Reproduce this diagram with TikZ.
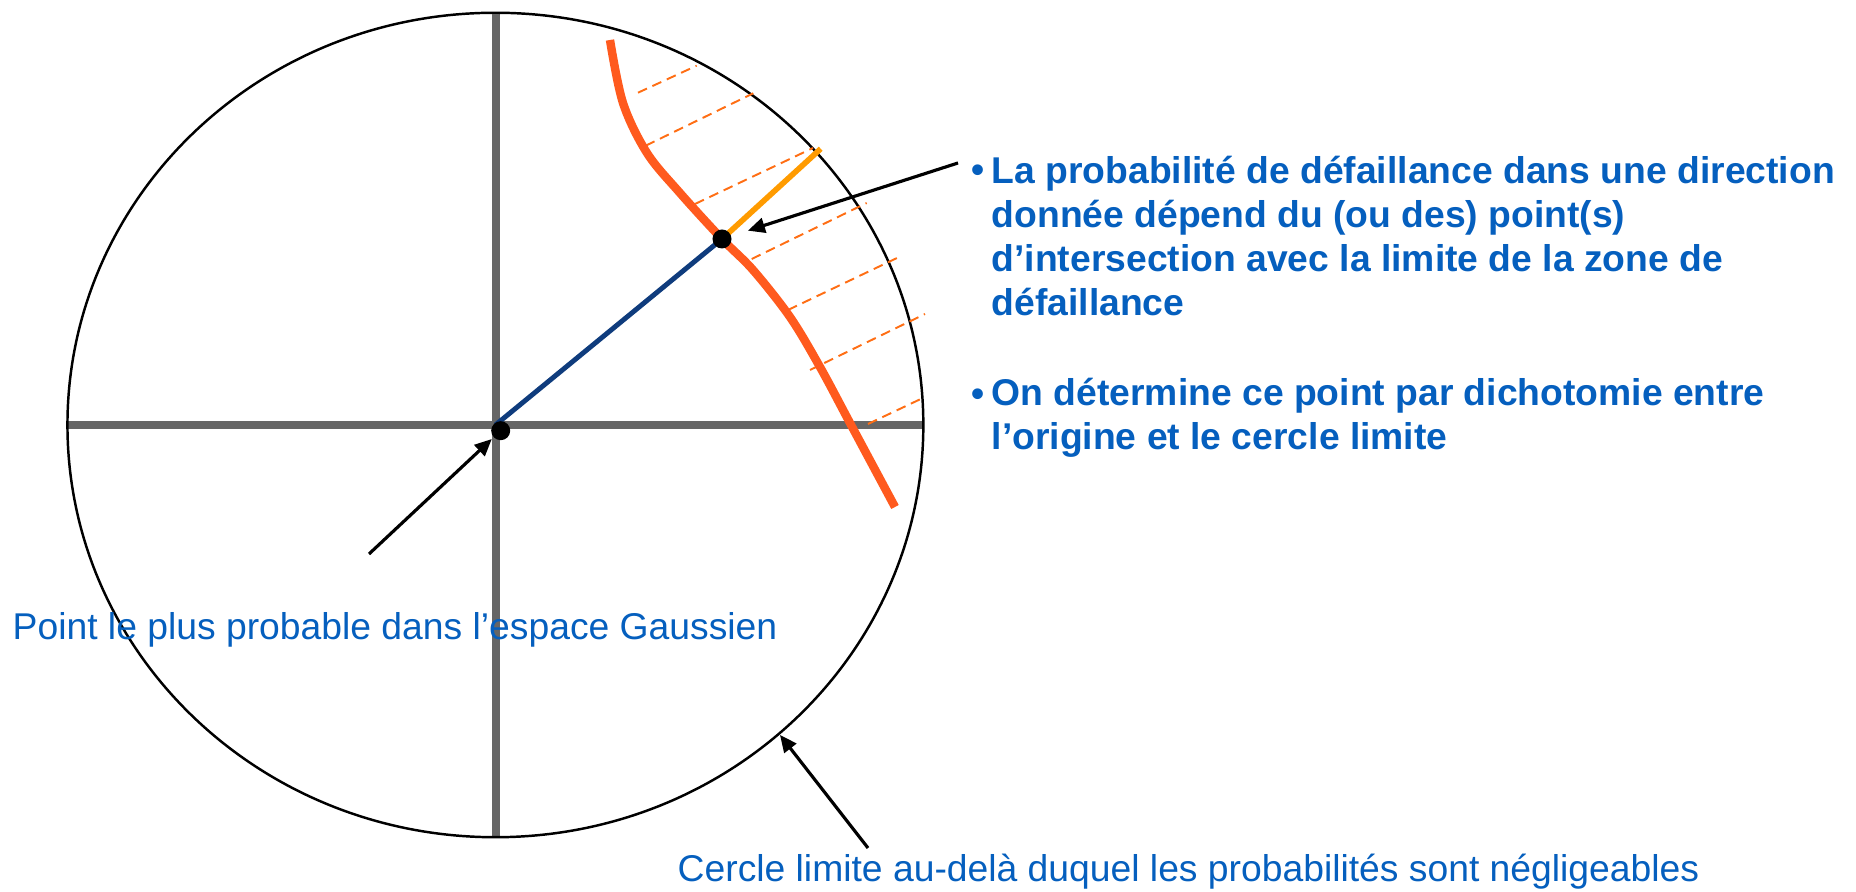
\documentclass[tikz,border=0pt]{standalone}
\usepackage{fontspec}
\setmainfont{Liberation Sans}
\usepackage{xcolor}
\usepackage{tikz}
\usetikzlibrary{arrows.meta,calc}
\definecolor{gaussblue}{RGB}{5,95,190}
\definecolor{axisgray}{RGB}{102,102,102}
\definecolor{failred}{RGB}{255,90,30}
\definecolor{hatchorange}{RGB}{255,110,20}
\definecolor{raynavy}{RGB}{15,60,125}
\definecolor{rayorange}{RGB}{255,155,0}
\tikzset{
  limitcircle/.style={draw=black, line width=0.7pt},
  axisline/.style={draw=axisgray, line width=2pt},
  failcurve/.style={draw=failred, line width=2.4pt, line cap=butt},
  hatchline/.style={draw=hatchorange, line width=0.55pt, dash pattern=on 2.8pt off 1.7pt},
  rayin/.style={draw=raynavy, line width=1.4pt},
  rayout/.style={draw=rayorange, line width=1.6pt},
  ptdot/.style={circle, fill=black, inner sep=0pt, minimum size=1.9mm},
  pointer/.style={-{Triangle[length=1.7mm, width=1.5mm]}, line width=0.9pt},
  lbl/.style={font=\fontsize{10.6}{12.6}\selectfont, text=gaussblue, inner sep=0pt},
  bul/.style={font=\bfseries\fontsize{10.6}{12.56}\selectfont, text=gaussblue, inner sep=0pt, align=left}
}
\begin{document}
\begin{tikzpicture}[x=0.01cm, y=-0.01cm]
    \useasboundingbox (0,0) rectangle (1856,892);
    % limit circle and axes
    \coordinate (C) at (495.4,425);
    \coordinate (W) at (67.7,425);  \coordinate (E) at (923,425);
    \coordinate (N) at (496,12.7);  \coordinate (S) at (496,836.7);
    \draw[axisline] (W) -- (E);
    \draw[axisline] (N) -- (S);
    \draw[limitcircle] (C) ellipse [x radius=4.277cm, y radius=4.12cm];
    % failure zone
    \foreach \a/\b in {{(638,92.7)}/{(696.7,65.7)}, {(645.7,145.7)}/{(753.3,93.3)},
                       {(695,204)}/{(813,148)}, {(751.7,259)}/{(866.7,203)},
                       {(788,310)}/{(897,258)}, {(810,370)}/{(925,314)},
                       {(868,424)}/{(925,397)}}
      \draw[hatchline] \a -- \b;
    \draw[failcurve] plot[smooth, tension=0.55] coordinates {(610,40) (623,103) (647,153)
      (680,193) (722,239) (753,270) (790,317) (820,367) (850,423) (895,507)};
    % ray from the origin
    \coordinate (p0) at (722,239);
    \coordinate (q) at (820.7,148.8);
    \draw[rayin] (C) -- (p0);
    \draw[rayout] (p0) -- (q);
    \node[ptdot] (p) at (p0) {};
    \node[ptdot] (o) at (500.7,430.7) {};
    % labels
    \node[lbl, anchor=base west] (gausslbl) at (12,640) {Point le plus probable dans l’espace Gaussien};
    \node[lbl, anchor=base west] (circlelbl) at (677,882) {Cercle limite au-delà duquel les probabilités sont négligeables};
    \node[bul, anchor=base west] (dot1) at (971,183) {\textbullet};
    \node[bul, anchor=base west] (item1) at (991,316) {La probabilité de défaillance dans une direction\\
      donnée dépend du (ou des) point(s)\\
      d’intersection avec la limite de la zone de\\
      défaillance};
    \node[bul, anchor=base west] (dot2) at (971,407) {\textbullet};
    \node[bul, anchor=base west] (item2) at (991,450) {On détermine ce point par dichotomie entre\\
      l’origine et le cercle limite};
    % pointers
    \coordinate (s1) at (958,163);
    \coordinate (s2) at (369,554);
    \coordinate (s3) at (868,848);
    \coordinate (rim) at (780,735);
    \draw[pointer, shorten >=1.7mm] (s1) -- (p);
    \draw[pointer, shorten >=0.2mm] (s2) -- (o);
    \draw[pointer] (s3) -- (rim);
\end{tikzpicture}
\end{document}
